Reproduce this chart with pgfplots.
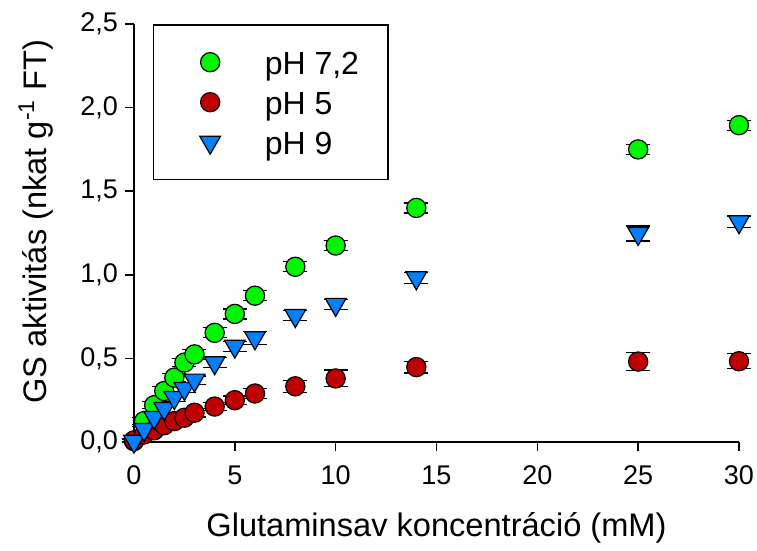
\documentclass[border=0pt]{standalone}
\usepackage{fontspec}
\setmainfont{Liberation Sans}
\usepackage{pgfplots}
\pgfplotsset{compat=1.18}
\definecolor{cgreen}{RGB}{0,245,0}
\definecolor{cred}{RGB}{192,0,0}
\definecolor{cblue}{RGB}{0,128,255}
\begin{document}
\begin{tikzpicture}
\begin{axis}[
  scale only axis,
  width=302.5pt, height=209pt,
  xmin=0, xmax=30, ymin=0, ymax=2.5,
  axis x line*=bottom, axis y line*=left,
  axis line style={-, line width=0.8pt},
  xtick={0,5,...,30}, ytick={0,0.5,...,2.5},
  tick align=outside, major tick length=4.5pt,
  tick style={line width=0.8pt, black},
  /pgf/number format/assume math mode=true,
  /pgf/number format/use comma,
  yticklabel style={/pgf/number format/fixed, /pgf/number format/fixed zerofill, /pgf/number format/precision=1},
  xticklabel style={/pgf/number format/fixed, yshift=-4pt},
  tick label style={font=\fontsize{13.5}{15}\selectfont},
  label style={font=\fontsize{16.3}{19}\selectfont},
  xlabel={Glutaminsav koncentráció (mM)},
  ylabel={GS aktivitás (nkat g\textsuperscript{-1} FT)},
  xlabel style={at={(axis description cs:0.5,-0.206)}, anchor=center},
  ylabel style={at={(axis description cs:-0.162,0.527)}, anchor=center, rotate=0},
  clip=false,
  legend style={at={(axis description cs:0.031,1)}, anchor=north west,
    draw=black, line width=0.8pt, font=\fontsize{16}{19}\selectfont,
    inner xsep=7.5pt, inner ysep=8.7pt, row sep=0pt,
    nodes={inner xsep=0pt, inner ysep=0pt, text height=16pt, text depth=4pt},
    legend cell align=left},
  legend image code/.code={\path (0pt,0pt) (47.5pt,0pt); \draw[#1, line width=0.6pt] plot coordinates {(20.5pt,0pt)};},
  every axis plot/.append style={only marks, line width=0.6pt},
  error bars/y dir=both, error bars/y explicit,
  error bars/error bar style={line width=0.6pt, black},
  error bars/error mark options={rotate=90, mark size=6pt, line width=0.6pt, black},
]
\addplot[mark=*, mark size=4.8pt, mark options={fill=cgreen, draw=black}] coordinates {
(0,0.005) +- (0,0.01)
(0.5,0.125) +- (0,0.02)
(1,0.22) +- (0,0.02)
(1.5,0.305) +- (0,0.025)
(2,0.385) +- (0,0.025)
(2.5,0.475) +- (0,0.025)
(3,0.524) +- (0,0.03)
(4,0.653) +- (0,0.03)
(5,0.766) +- (0,0.03)
(6,0.875) +- (0,0.03)
(8,1.048) +- (0,0.03)
(10,1.175) +- (0,0.03)
(14,1.40) +- (0,0.03)
(25,1.75) +- (0,0.03)
(30,1.895) +- (0,0.03)
};
\addlegendentry{pH 7,2\hspace*{7pt}}
\addplot[mark=*, mark size=4.8pt, mark options={fill=cred, draw=black}] coordinates {
(0,0.01) +- (0,0.01)
(0.5,0.045) +- (0,0.015)
(1,0.07) +- (0,0.015)
(1.5,0.10) +- (0,0.02)
(2,0.125) +- (0,0.02)
(2.5,0.145) +- (0,0.02)
(3,0.175) +- (0,0.025)
(4,0.212) +- (0,0.025)
(5,0.25) +- (0,0.025)
(6,0.29) +- (0,0.03)
(8,0.333) +- (0,0.035)
(10,0.38) +- (0,0.05)
(14,0.448) +- (0,0.035)
(25,0.481) +- (0,0.053)
(30,0.483) +- (0,0.045)
};
\addlegendentry{pH 5}
\addplot[mark=triangle*, mark size=6pt, mark options={fill=cblue, draw=black, rotate=180}] coordinates {
(0,0.005) +- (0,0.01)
(0.5,0.075) +- (0,0.02)
(1,0.147) +- (0,0.02)
(1.5,0.20) +- (0,0.025)
(2,0.266) +- (0,0.025)
(2.5,0.32) +- (0,0.025)
(3,0.37) +- (0,0.025)
(4,0.474) +- (0,0.03)
(5,0.573) +- (0,0.03)
(6,0.623) +- (0,0.04)
(8,0.756) +- (0,0.03)
(10,0.823) +- (0,0.03)
(14,0.982) +- (0,0.032)
(25,1.247) +- (0,0.045)
(30,1.317) +- (0,0.035)
};
\addlegendentry{pH 9}
\coordinate (bbl) at (rel axis cs:-0.2215,-0.2608);
\coordinate (btr) at (rel axis cs:1.0298,1.0574);
\end{axis}
\pgfresetboundingbox
\path (bbl) rectangle (btr);
\end{tikzpicture}
\end{document}
